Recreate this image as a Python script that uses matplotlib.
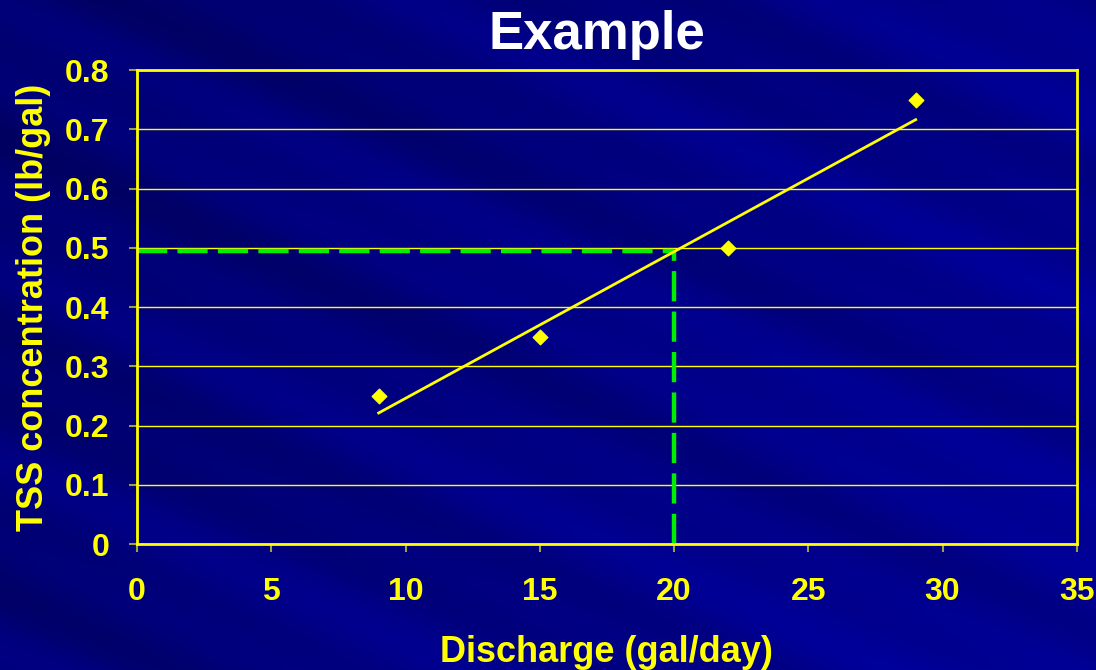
import numpy as np
import matplotlib.pyplot as plt
from matplotlib.colors import LinearSegmentedColormap

plt.rcParams['font.family'] = ['Liberation Sans', 'DejaVu Sans']
plt.rcParams['font.weight'] = 'bold'

# data
discharge = [9, 15, 22, 29]
tss = [0.25, 0.35, 0.5, 0.75]
target_x = 20
target_y = 0.495
x_ticks = [0, 5, 10, 15, 20, 25, 30, 35]
y_ticks = [0, 0.1, 0.2, 0.3, 0.4, 0.5, 0.6, 0.7, 0.8]
y_labels = ['0', '0.1', '0.2', '0.3', '0.4', '0.5', '0.6', '0.7', '0.8']

YELLOW = '#ffff00'
GREEN = '#00ee00'

fig = plt.figure(figsize=(10.96, 6.70), dpi=100)

# slide-like background: navy with diagonal bands running down to the right
bg = fig.add_axes([0, 0, 1, 1], zorder=-10)
bg.set_axis_off()
h, w = 335, 548
yy, xx = np.mgrid[0:h, 0:w]
diag = (yy - 0.45 * xx) / h
bands = (0.5 + 0.3 * np.sin(diag * 2 * np.pi * 3.1 + 0.5)
         + 0.2 * np.sin(diag * 2 * np.pi * 7.3 + 1.7))
shade = 0.45 * bands + 0.45 * (xx / w) + 0.15 * (yy / h)
cmap = LinearSegmentedColormap.from_list('navy', ['#000060', '#000080', '#00009c'])
bg.imshow(shade, cmap=cmap, aspect='auto', extent=[0, 1, 0, 1])

ax = fig.add_axes([0.125, 0.188, 0.8575, 0.7075])
ax.patch.set_alpha(0)

ax.set_xlim(0, 35)
ax.set_ylim(0, 0.8)
ax.set_xticks(x_ticks)
ax.set_yticks(y_ticks)
ax.set_yticklabels(y_labels)

ax.grid(axis='y', color=YELLOW, linewidth=1.0)
ax.set_axisbelow(True)
for s in ax.spines.values():
    s.set_color(YELLOW)
    s.set_linewidth(2)

ax.tick_params(axis='both', colors='#a0a040', labelcolor=YELLOW, labelsize=23,
               length=6, width=1.5)
ax.tick_params(axis='x', pad=18)
ax.tick_params(axis='y', direction='out', pad=14)

# trend line (least squares through the points)
slope, icpt = np.polyfit(discharge, tss, 1)
fx = np.array([min(discharge), max(discharge)])
ax.plot(fx, slope * fx + icpt, color=YELLOW, linewidth=2, zorder=3)

ax.scatter(discharge, tss, marker='D', s=55, color=YELLOW, zorder=4)

# green reading lines
ax.plot([0, target_x], [target_y, target_y], color=GREEN, linewidth=3.2,
        dashes=(6.8, 2.3), zorder=2, clip_on=False)
ax.plot([target_x, target_x], [0, target_y], color=GREEN, linewidth=3.2,
        dashes=(6.8, 2.3), zorder=2)

ax.set_xlabel('Discharge (gal/day)', color=YELLOW, fontsize=26, fontweight='bold',
              labelpad=20)
ax.set_ylabel('TSS concentration (lb/gal)', color=YELLOW, fontsize=26,
              fontweight='bold', labelpad=10)

fig.text(0.545, 0.927, 'Example', color='white', fontsize=38, fontweight='bold',
         ha='center', va='baseline')

fig.savefig('out.png', dpi=100)
